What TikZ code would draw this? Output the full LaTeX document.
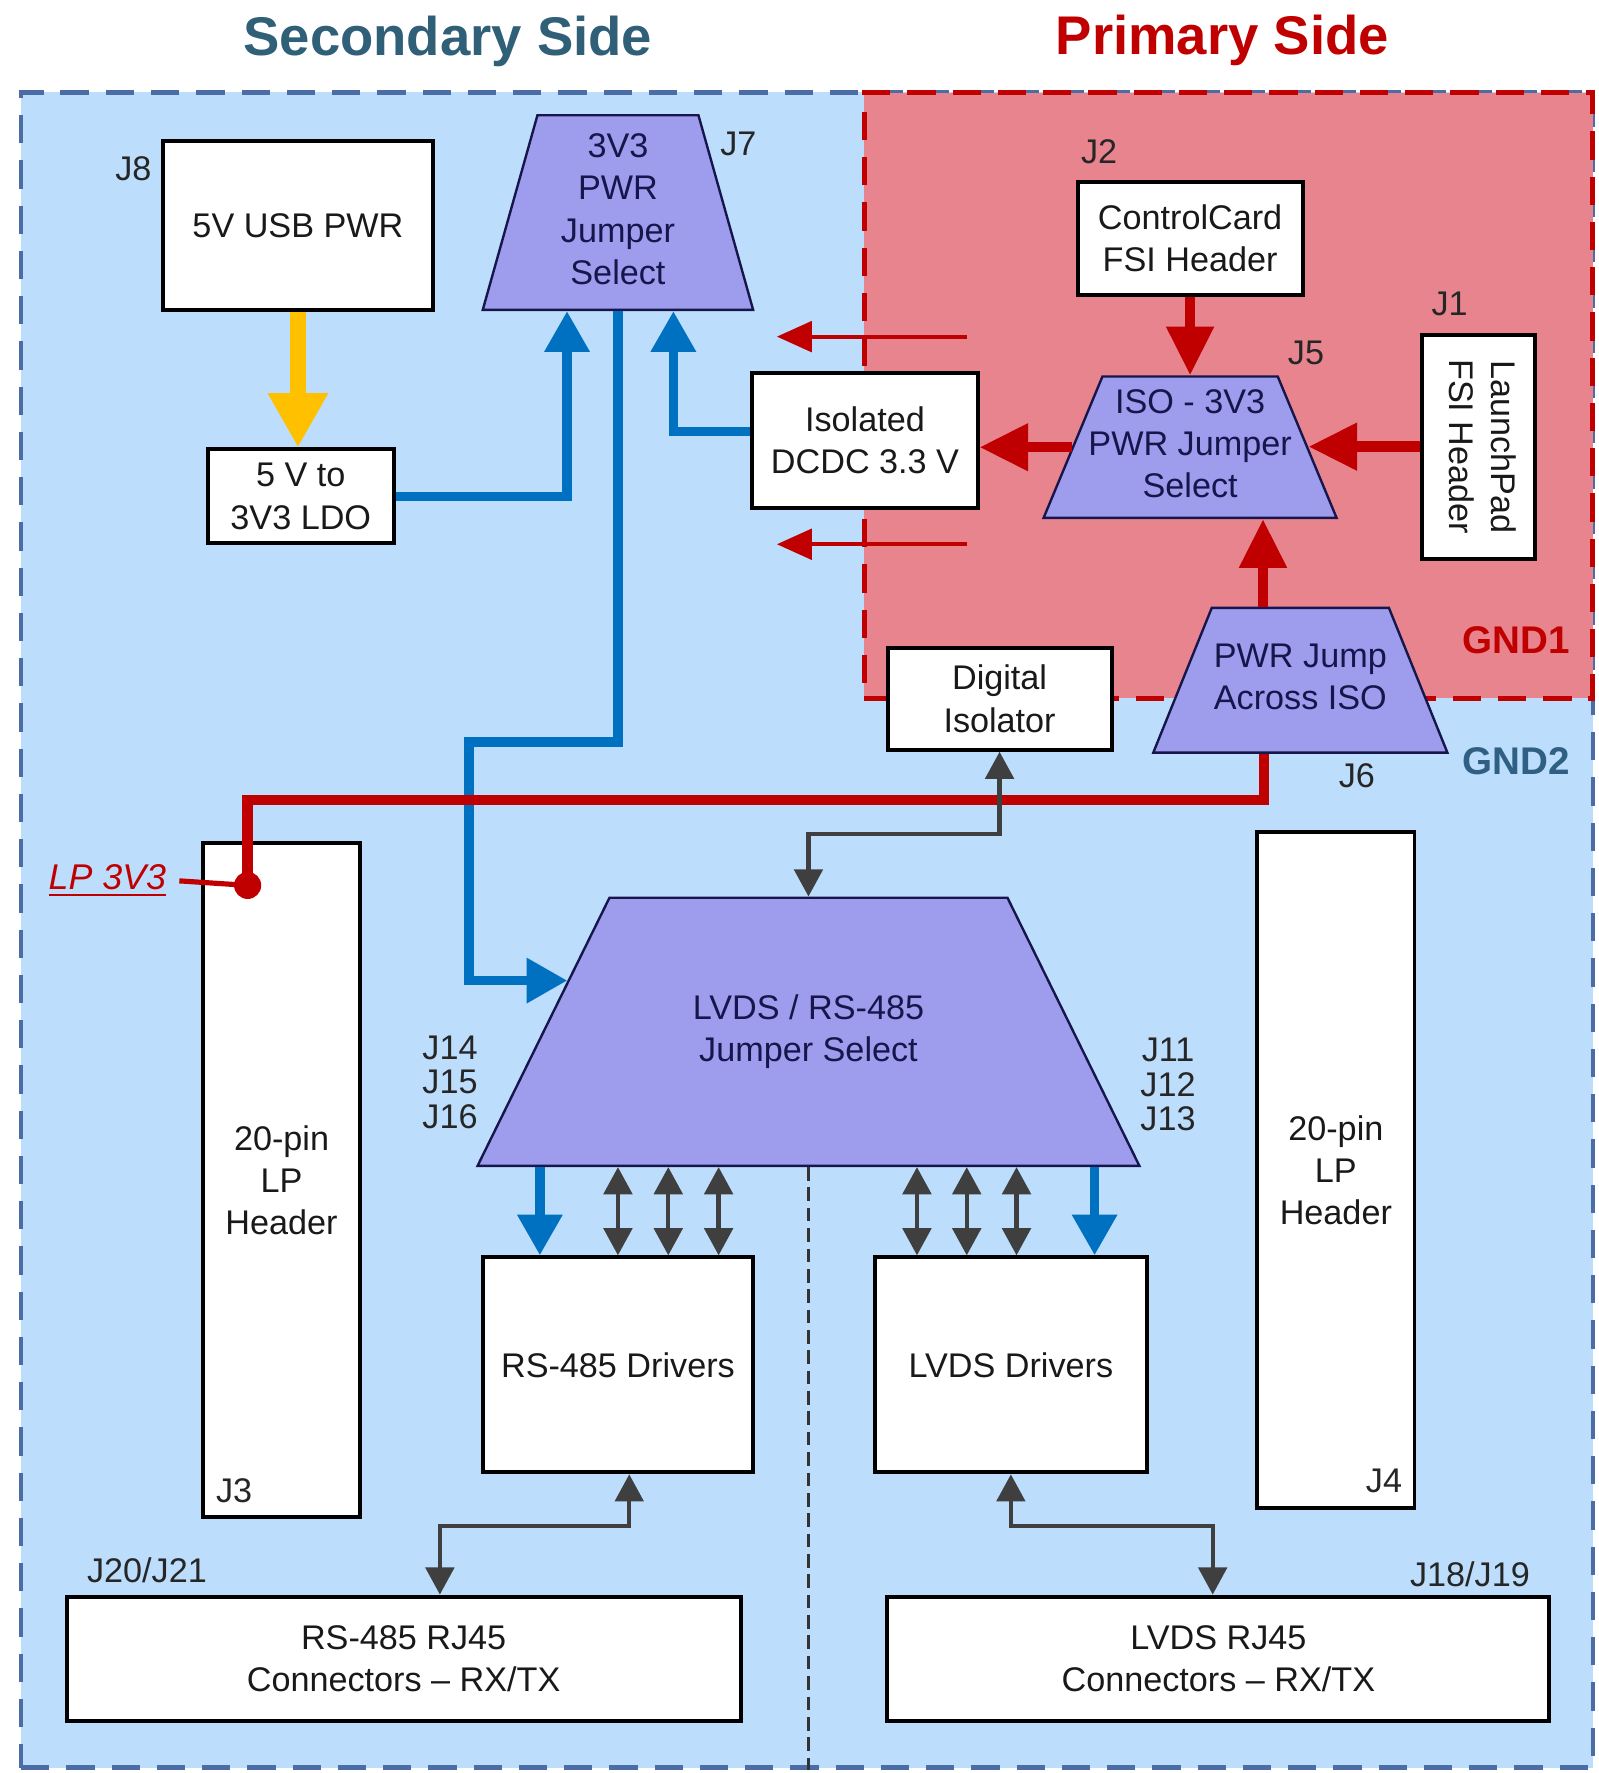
\documentclass[tikz,border=0pt]{standalone}
\usepackage{fontspec}
\setmainfont{Liberation Sans}
\usetikzlibrary{arrows.meta,shapes.geometric}
\definecolor{tiblue}{HTML}{0070C0}
\definecolor{tired}{HTML}{C00000}
\definecolor{tiyellow}{HTML}{FFC000}
\definecolor{secfill}{HTML}{BCDDFB}
\definecolor{secedge}{HTML}{4C6CA6}
\definecolor{prifill}{HTML}{E8848E}
\definecolor{lavender}{HTML}{9E9CEC}
\definecolor{navy}{HTML}{16164C}
\definecolor{slate}{HTML}{305F78}
\definecolor{gndblue}{HTML}{2F5F82}
\definecolor{darkgrey}{HTML}{3F3F3F}

\newcommand{\bodyfont}{\fontsize{8.6}{10.6}\selectfont}
% zero-width text box of a given height, so the trapezium keeps its angles
\newcommand{\jtext}[2]{\makebox[0pt]{\parbox[c][#1][c]{4cm}{\centering
    \begin{tabular}{@{}c@{}}#2\end{tabular}}}}

\begin{document}
\begin{tikzpicture}[
    x=0.01cm, y=-0.01cm,
    region/.style={draw=#1, line width=1.2pt, dash pattern=on 0.25cm off 0.15cm, inner sep=0pt},
    block/.style={draw=black, line width=1pt, fill=white, text=black!90,
        font=\bodyfont, align=center, inner sep=0pt},
    jumper/.style={trapezium, trapezium stretches body, trapezium angle=#1,
        draw=navy, line width=0.6pt, fill=lavender, text=navy,
        font=\bodyfont, inner sep=0pt},
    tag/.style={font=\bodyfont, text=black!85, inner sep=0pt, align=center},
    title/.style={font=\fontsize{13.7}{16}\selectfont\bfseries, text=#1},
    gnd/.style={font=\fontsize{9.7}{11}\selectfont\bfseries, text=#1},
    usbarr/.style={-{Triangle[length=0.48cm, width=0.5cm]}, line width=4pt, draw=tiyellow},
    pwrblue/.style={-{Triangle[length=0.36cm, width=0.38cm]}, line width=2.4pt, draw=tiblue},
    pwrred/.style={-{Triangle[length=0.43cm, width=0.4cm]}, line width=2.6pt, draw=tired},
    pwrline/.style={line width=2.6pt, draw=tired},
    isoarr/.style={-{Triangle[length=0.31cm, width=0.27cm]}, line width=1pt, draw=tired},
    dataarr/.style={{Triangle[length=0.24cm, width=0.25cm]}-{Triangle[length=0.24cm, width=0.25cm]},
        line width=1.1pt, draw=darkgrey},
    divider/.style={draw=black!80, line width=0.6pt, dash pattern=on 0.12cm off 0.06cm},
]
\useasboundingbox (0,0) rectangle (1414,1568);

% ── Ground regions ──
\node[region=secedge, fill=secfill, minimum width=13.894cm, minimum height=14.81cm] (secside) at (713.7,822.5) {};
\node[region=tired, fill=prifill, minimum width=6.437cm, minimum height=5.355cm] (priside) at (1086.5,349.75) {};

\node[title=slate] (sectitle) at (396,37) {Secondary Side};
\node[title=tired] (prititle) at (1081,36) {Primary Side};
\node[gnd=tired] (gnd1) at (1341,566) {GND1};
\node[gnd=gndblue] (gnd2) at (1341,673) {GND2};

% ── Secondary side power ──
\node[block, minimum width=2.38cm, minimum height=1.49cm] (usb) at (263.5,199.5) {5V USB PWR};
\node[block, minimum width=1.64cm, minimum height=0.83cm] (ldo) at (266,439) {5 V to\\3V3 LDO};
\node[jumper=74.3, minimum width=2.39cm] (jsel) at (546.5,188)
    {\jtext{1.72cm}{3V3\\PWR\\Jumper\\Select}};
\node[block, minimum width=1.99cm, minimum height=1.2cm] (dcdc) at (765,389.5) {Isolated\\DCDC 3.3 V};

% ── Primary side ──
\node[block, minimum width=1.99cm, minimum height=1cm] (ctrlcard) at (1052.5,211) {ControlCard\\FSI Header};
\node[jumper=67.4, minimum width=2.59cm] (isojmp) at (1052.5,395.5)
    {\jtext{1.25cm}{ISO - 3V3\\PWR Jumper\\Select}};
\node[block, minimum width=0.995cm, minimum height=1.98cm] (launchpad) at (1307.7,395)
    {\rotatebox{-90}{\begin{tabular}{@{}c@{}}LaunchPad\\FSI Header\end{tabular}}};
\node[jumper=68, minimum width=2.6cm] (pwrjump) at (1150,601.6)
    {\jtext{1.28cm}{PWR Jump\\Across ISO}};
\node[block, minimum width=1.98cm, minimum height=0.9cm] (digiso) at (884,618) {Digital\\Isolator};

% ── Interface section ──
\node[jumper=63.8, minimum width=5.85cm] (lvdsjmp) at (715,912.5)
    {\jtext{2.37cm}{LVDS / RS-485\\Jumper Select}};
\node[block, minimum width=1.39cm, minimum height=5.96cm] (lphdrL) at (249,1043.5) {20-pin\\LP\\Header};
\node[block, minimum width=1.39cm, minimum height=5.98cm] (lphdrR) at (1181.4,1034.7) {20-pin\\LP\\Header};
\node[block, minimum width=2.39cm, minimum height=1.9cm] (rsdrv) at (546.5,1207) {RS-485 Drivers};
\node[block, minimum width=2.4cm, minimum height=1.9cm] (lvdsdrv) at (894,1207) {LVDS Drivers};
\node[block, minimum width=5.955cm, minimum height=1.1cm] (rsrj) at (357,1467) {RS-485 RJ45\\Connectors -- RX/TX};
\node[block, minimum width=5.85cm, minimum height=1.1cm] (lvdsrj) at (1077.5,1467) {LVDS RJ45\\Connectors -- RX/TX};

% ── Jumper / connector tags ──
\node[tag] (j8) at (118,149) {J8};
\node[tag] (j7) at (653,127) {J7};
\node[tag] (j2) at (972,134) {J2};
\node[tag] (j1) at (1282,269) {J1};
\node[tag] (j5) at (1155,312) {J5};
\node[tag] (j6) at (1200,686) {J6};
\node[tag, font=\fontsize{8.6}{8.7}\selectfont] (j14) at (398,957) {J14\\J15\\J16};
\node[tag, font=\fontsize{8.6}{8.7}\selectfont] (j11) at (1033,959) {J11\\J12\\J13};
\node[tag] (j3) at (207,1318) {J3};
\node[tag] (j4) at (1224,1310) {J4};
\node[tag] (j20) at (130,1389) {J20/J21};
\node[tag] (j18) at (1300,1392) {J18/J19};

% ── Power arrows ──
\draw[usbarr] (usb.south) -- (usb.south |- ldo.north);
\draw[pwrblue] (ldo.east) -| ([xshift=-0.45cm]jsel.south);
\draw[pwrblue] ([yshift=0.08cm]dcdc.west) -| ([xshift=0.49cm]jsel.south);
\coordinate (bend) at (415,656);
\draw[pwrblue] (jsel.south) |- (bend) |- (lvdsjmp.168.5);
\draw[pwrblue] ([xshift=-0.69cm]rsdrv.north |- lvdsjmp.south) -- ([xshift=-0.69cm]rsdrv.north);
\draw[pwrblue] ([xshift=0.74cm]lvdsdrv.north |- lvdsjmp.south) -- ([xshift=0.74cm]lvdsdrv.north);

\draw[pwrred] (ctrlcard.south) -- (isojmp.north);
\draw[pwrred] (launchpad.west) -- (launchpad.west -| isojmp.east);
\draw[pwrred] (isojmp.west) -- (isojmp.west -| dcdc.east);
\draw[pwrred] ([xshift=-0.33cm]pwrjump.north) -- ([xshift=-0.33cm]pwrjump.north |- isojmp.south);
\draw[isoarr] ([xshift=0.9cm, yshift=0.3cm]dcdc.north) -- ++(-168,0);
\draw[isoarr] ([xshift=0.9cm, yshift=-0.3cm]dcdc.south) -- ++(-168,0);

% LP 3V3 feed
\coordinate (lp3v3) at (219,783);
\draw[pwrline] ([xshift=-0.32cm]pwrjump.south) -- ++(0,41) -| (lp3v3);
\fill[tired] (lp3v3) circle (0.12cm);
\node[font=\fontsize{9}{11}\selectfont, text=tired, inner sep=0.11cm] (lplabel) at (95,779) {\underline{\textit{LP 3V3}}};
\draw[tired, line width=1.3pt] (lplabel.east) -- (lp3v3);

% ── Signal arrows ──
\draw[dataarr] (digiso.south) -- ++(0,73) -| (lvdsjmp.north);
\foreach \dx in {0,0.445,0.89}
  \draw[dataarr] ([xshift=\dx cm]rsdrv.north |- lvdsjmp.south) -- ([xshift=\dx cm]rsdrv.north);
\foreach \dx in {-0.83,-0.39,0.05}
  \draw[dataarr] ([xshift=\dx cm]lvdsdrv.north |- lvdsjmp.south) -- ([xshift=\dx cm]lvdsdrv.north);
\draw[dataarr] ([xshift=0.1cm]rsdrv.south) -- ++(0,46) -| ([xshift=0.32cm]rsrj.north);
\draw[dataarr] (lvdsdrv.south) -- ++(0,46) -| ([xshift=-0.05cm]lvdsrj.north);

% ── RS-485 / LVDS split ──
\draw[divider] (lvdsjmp.south) -- (lvdsjmp.south |- secside.south);

\end{tikzpicture}
\end{document}
